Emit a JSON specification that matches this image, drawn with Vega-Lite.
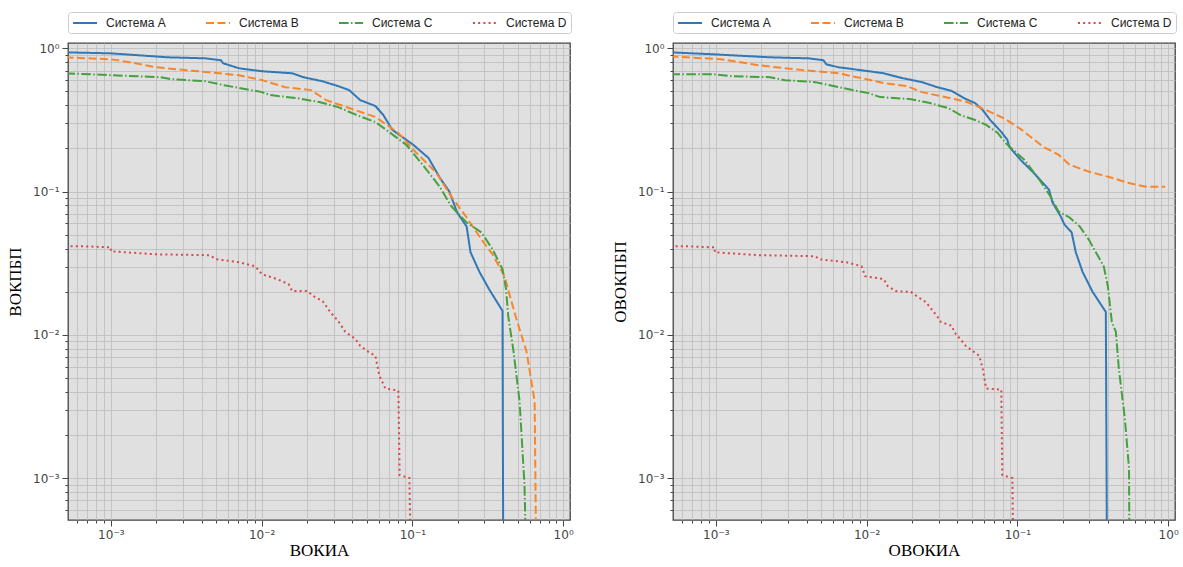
{
  "$schema": "https://vega.github.io/schema/vega-lite/v6.json",
  "background": "white",
  "padding": {"left": 5, "top": 10, "right": 5, "bottom": 5},
  "spacing": 103,
  "bounds": "flush",
  "datasets": {
    "d": [
      {"p":"L","s":"Система A","i":0,"x":0.0005,"y":0.938},
      {"p":"L","s":"Система A","i":1,"x":0.001,"y":0.923},
      {"p":"L","s":"Система A","i":2,"x":0.00239,"y":0.866},
      {"p":"L","s":"Система A","i":3,"x":0.00421,"y":0.852},
      {"p":"L","s":"Система A","i":4,"x":0.00538,"y":0.826},
      {"p":"L","s":"Система A","i":5,"x":0.00555,"y":0.787},
      {"p":"L","s":"Система A","i":6,"x":0.00709,"y":0.726},
      {"p":"L","s":"Система A","i":7,"x":0.01007,"y":0.692},
      {"p":"L","s":"Система A","i":8,"x":0.01596,"y":0.670},
      {"p":"L","s":"Система A","i":9,"x":0.0189,"y":0.629},
      {"p":"L","s":"Система A","i":10,"x":0.0252,"y":0.590},
      {"p":"L","s":"Система A","i":11,"x":0.0322,"y":0.545},
      {"p":"L","s":"Система A","i":12,"x":0.0381,"y":0.511},
      {"p":"L","s":"Система A","i":13,"x":0.0451,"y":0.435},
      {"p":"L","s":"Система A","i":14,"x":0.0568,"y":0.396},
      {"p":"L","s":"Система A","i":15,"x":0.0641,"y":0.343},
      {"p":"L","s":"Система A","i":16,"x":0.0736,"y":0.270},
      {"p":"L","s":"Система A","i":17,"x":0.1015,"y":0.212},
      {"p":"L","s":"Система A","i":18,"x":0.1277,"y":0.172},
      {"p":"L","s":"Система A","i":19,"x":0.152,"y":0.125},
      {"p":"L","s":"Система A","i":20,"x":0.176,"y":0.100},
      {"p":"L","s":"Система A","i":21,"x":0.198,"y":0.0715},
      {"p":"L","s":"Система A","i":22,"x":0.229,"y":0.0571},
      {"p":"L","s":"Система A","i":23,"x":0.243,"y":0.0377},
      {"p":"L","s":"Система A","i":24,"x":0.279,"y":0.0274},
      {"p":"L","s":"Система A","i":25,"x":0.322,"y":0.0209},
      {"p":"L","s":"Система A","i":26,"x":0.396,"y":0.0147},
      {"p":"L","s":"Система A","i":27,"x":0.40,"y":0.0004},

      {"p":"L","s":"Система B","i":0,"x":0.0005,"y":0.866},
      {"p":"L","s":"Система B","i":1,"x":0.001,"y":0.839},
      {"p":"L","s":"Система B","i":2,"x":0.001337,"y":0.800},
      {"p":"L","s":"Система B","i":3,"x":0.00199,"y":0.738},
      {"p":"L","s":"Система B","i":4,"x":0.0032,"y":0.703},
      {"p":"L","s":"Система B","i":5,"x":0.00448,"y":0.681},
      {"p":"L","s":"Система B","i":6,"x":0.00709,"y":0.649},
      {"p":"L","s":"Система B","i":7,"x":0.01007,"y":0.600},
      {"p":"L","s":"Система B","i":8,"x":0.01432,"y":0.536},
      {"p":"L","s":"Система B","i":9,"x":0.0213,"y":0.511},
      {"p":"L","s":"Система B","i":10,"x":0.0268,"y":0.435},
      {"p":"L","s":"Система B","i":11,"x":0.0381,"y":0.383},
      {"p":"L","s":"Система B","i":12,"x":0.0568,"y":0.332},
      {"p":"L","s":"Система B","i":13,"x":0.0807,"y":0.257},
      {"p":"L","s":"Система B","i":14,"x":0.1015,"y":0.196},
      {"p":"L","s":"Система B","i":15,"x":0.144,"y":0.1355},
      {"p":"L","s":"Система B","i":16,"x":0.1815,"y":0.0923},
      {"p":"L","s":"Система B","i":17,"x":0.229,"y":0.066},
      {"p":"L","s":"Система B","i":18,"x":0.287,"y":0.0464},
      {"p":"L","s":"Система B","i":19,"x":0.340,"y":0.0365},
      {"p":"L","s":"Система B","i":20,"x":0.408,"y":0.0257},
      {"p":"L","s":"Система B","i":21,"x":0.483,"y":0.01355},
      {"p":"L","s":"Система B","i":22,"x":0.572,"y":0.00762},
      {"p":"L","s":"Система B","i":23,"x":0.647,"y":0.00343},
      {"p":"L","s":"Система B","i":24,"x":0.66,"y":0.0004},

      {"p":"L","s":"Система C","i":0,"x":0.0005,"y":0.670},
      {"p":"L","s":"Система C","i":1,"x":0.00212,"y":0.629},
      {"p":"L","s":"Система C","i":2,"x":0.00254,"y":0.609},
      {"p":"L","s":"Система C","i":3,"x":0.00421,"y":0.590},
      {"p":"L","s":"Система C","i":4,"x":0.00564,"y":0.553},
      {"p":"L","s":"Система C","i":5,"x":0.01007,"y":0.495},
      {"p":"L","s":"Система C","i":6,"x":0.01138,"y":0.472},
      {"p":"L","s":"Система C","i":7,"x":0.01695,"y":0.450},
      {"p":"L","s":"Система C","i":8,"x":0.0241,"y":0.422},
      {"p":"L","s":"Система C","i":9,"x":0.0322,"y":0.389},
      {"p":"L","s":"Система C","i":10,"x":0.0425,"y":0.343},
      {"p":"L","s":"Система C","i":11,"x":0.0568,"y":0.306},
      {"p":"L","s":"Система C","i":12,"x":0.0714,"y":0.257},
      {"p":"L","s":"Система C","i":13,"x":0.0912,"y":0.212},
      {"p":"L","s":"Система C","i":14,"x":0.120,"y":0.149},
      {"p":"L","s":"Система C","i":15,"x":0.152,"y":0.108},
      {"p":"L","s":"Система C","i":16,"x":0.1815,"y":0.0787},
      {"p":"L","s":"Система C","i":17,"x":0.229,"y":0.0609},
      {"p":"L","s":"Система C","i":18,"x":0.287,"y":0.0519},
      {"p":"L","s":"Система C","i":19,"x":0.340,"y":0.0396},
      {"p":"L","s":"Система C","i":20,"x":0.396,"y":0.0287},
      {"p":"L","s":"Система C","i":21,"x":0.418,"y":0.0209},
      {"p":"L","s":"Система C","i":22,"x":0.432,"y":0.01355},
      {"p":"L","s":"Система C","i":23,"x":0.469,"y":0.00762},
      {"p":"L","s":"Система C","i":24,"x":0.514,"y":0.00343},
      {"p":"L","s":"Система C","i":25,"x":0.554,"y":0.000894},
      {"p":"L","s":"Система C","i":26,"x":0.564,"y":0.0004},

      {"p":"L","s":"Система D","i":0,"x":0.0005,"y":0.0415},
      {"p":"L","s":"Система D","i":1,"x":0.000671,"y":0.0415},
      {"p":"L","s":"Система D","i":2,"x":0.001,"y":0.0408},
      {"p":"L","s":"Система D","i":3,"x":0.001,"y":0.0383},
      {"p":"L","s":"Система D","i":4,"x":0.00199,"y":0.0365},
      {"p":"L","s":"Система D","i":5,"x":0.00448,"y":0.0360},
      {"p":"L","s":"Система D","i":6,"x":0.00506,"y":0.0337},
      {"p":"L","s":"Система D","i":7,"x":0.00709,"y":0.0321},
      {"p":"L","s":"Система D","i":8,"x":0.00905,"y":0.0301},
      {"p":"L","s":"Система D","i":9,"x":0.01007,"y":0.0265},
      {"p":"L","s":"Система D","i":10,"x":0.01268,"y":0.0245},
      {"p":"L","s":"Система D","i":11,"x":0.0151,"y":0.0226},
      {"p":"L","s":"Система D","i":12,"x":0.01596,"y":0.0202},
      {"p":"L","s":"Система D","i":13,"x":0.02005,"y":0.0202},
      {"p":"L","s":"Система D","i":14,"x":0.0226,"y":0.01836},
      {"p":"L","s":"Система D","i":15,"x":0.0254,"y":0.01722},
      {"p":"L","s":"Система D","i":16,"x":0.0285,"y":0.01445},
      {"p":"L","s":"Система D","i":17,"x":0.0322,"y":0.0125},
      {"p":"L","s":"Система D","i":18,"x":0.0359,"y":0.0105},
      {"p":"L","s":"Система D","i":19,"x":0.0418,"y":0.00938},
      {"p":"L","s":"Система D","i":20,"x":0.0451,"y":0.00839},
      {"p":"L","s":"Система D","i":21,"x":0.0510,"y":0.00762},
      {"p":"L","s":"Система D","i":22,"x":0.0568,"y":0.00714},
      {"p":"L","s":"Система D","i":23,"x":0.0604,"y":0.00519},
      {"p":"L","s":"Система D","i":24,"x":0.0662,"y":0.00422},
      {"p":"L","s":"Система D","i":25,"x":0.0807,"y":0.00408},
      {"p":"L","s":"Система D","i":26,"x":0.0823,"y":0.00105},
      {"p":"L","s":"Система D","i":27,"x":0.0955,"y":0.001},
      {"p":"L","s":"Система D","i":28,"x":0.097,"y":0.0004},

      {"p":"R","s":"Система A","i":0,"x":0.0005,"y":0.938},
      {"p":"R","s":"Система A","i":1,"x":0.000962,"y":0.909},
      {"p":"R","s":"Система A","i":2,"x":0.00229,"y":0.866},
      {"p":"R","s":"Система A","i":3,"x":0.0041,"y":0.852},
      {"p":"R","s":"Система A","i":4,"x":0.00517,"y":0.826},
      {"p":"R","s":"Система A","i":5,"x":0.00541,"y":0.774},
      {"p":"R","s":"Система A","i":6,"x":0.0065,"y":0.738},
      {"p":"R","s":"Система A","i":7,"x":0.00927,"y":0.703},
      {"p":"R","s":"Система A","i":8,"x":0.013,"y":0.670},
      {"p":"R","s":"Система A","i":9,"x":0.0174,"y":0.619},
      {"p":"R","s":"Система A","i":10,"x":0.0233,"y":0.581},
      {"p":"R","s":"Система A","i":11,"x":0.0293,"y":0.536},
      {"p":"R","s":"Система A","i":12,"x":0.0369,"y":0.503},
      {"p":"R","s":"Система A","i":13,"x":0.0441,"y":0.450},
      {"p":"R","s":"Система A","i":14,"x":0.0525,"y":0.415},
      {"p":"R","s":"Система A","i":15,"x":0.0589,"y":0.371},
      {"p":"R","s":"Система A","i":16,"x":0.0661,"y":0.316},
      {"p":"R","s":"Система A","i":17,"x":0.0782,"y":0.261},
      {"p":"R","s":"Система A","i":18,"x":0.0858,"y":0.230},
      {"p":"R","s":"Система A","i":19,"x":0.0885,"y":0.205},
      {"p":"R","s":"Система A","i":20,"x":0.1047,"y":0.167},
      {"p":"R","s":"Система A","i":21,"x":0.128,"y":0.1355},
      {"p":"R","s":"Система A","i":22,"x":0.162,"y":0.1033},
      {"p":"R","s":"Система A","i":23,"x":0.171,"y":0.0839},
      {"p":"R","s":"Система A","i":24,"x":0.194,"y":0.067},
      {"p":"R","s":"Система A","i":25,"x":0.205,"y":0.059},
      {"p":"R","s":"Система A","i":26,"x":0.229,"y":0.0519},
      {"p":"R","s":"Система A","i":27,"x":0.244,"y":0.0377},
      {"p":"R","s":"Система A","i":28,"x":0.271,"y":0.0274},
      {"p":"R","s":"Система A","i":29,"x":0.316,"y":0.0199},
      {"p":"R","s":"Система A","i":30,"x":0.386,"y":0.01445},
      {"p":"R","s":"Система A","i":31,"x":0.392,"y":0.0004},

      {"p":"R","s":"Система B","i":0,"x":0.0005,"y":0.88},
      {"p":"R","s":"Система B","i":1,"x":0.00108,"y":0.839},
      {"p":"R","s":"Система B","i":2,"x":0.00145,"y":0.800},
      {"p":"R","s":"Система B","i":3,"x":0.00193,"y":0.762},
      {"p":"R","s":"Система B","i":4,"x":0.00288,"y":0.726},
      {"p":"R","s":"Система B","i":5,"x":0.00457,"y":0.692},
      {"p":"R","s":"Система B","i":6,"x":0.0065,"y":0.670},
      {"p":"R","s":"Система B","i":7,"x":0.00927,"y":0.619},
      {"p":"R","s":"Система B","i":8,"x":0.013,"y":0.572},
      {"p":"R","s":"Система B","i":9,"x":0.0185,"y":0.545},
      {"p":"R","s":"Система B","i":10,"x":0.0233,"y":0.495},
      {"p":"R","s":"Система B","i":11,"x":0.0331,"y":0.457},
      {"p":"R","s":"Система B","i":12,"x":0.0464,"y":0.422},
      {"p":"R","s":"Система B","i":13,"x":0.0621,"y":0.371},
      {"p":"R","s":"Система B","i":14,"x":0.0832,"y":0.321},
      {"p":"R","s":"Система B","i":15,"x":0.1047,"y":0.274},
      {"p":"R","s":"Система B","i":16,"x":0.125,"y":0.237},
      {"p":"R","s":"Система B","i":17,"x":0.149,"y":0.205},
      {"p":"R","s":"Система B","i":18,"x":0.1875,"y":0.181},
      {"p":"R","s":"Система B","i":19,"x":0.222,"y":0.154},
      {"p":"R","s":"Система B","i":20,"x":0.297,"y":0.138},
      {"p":"R","s":"Система B","i":21,"x":0.423,"y":0.125},
      {"p":"R","s":"Система B","i":22,"x":0.533,"y":0.1155},
      {"p":"R","s":"Система B","i":23,"x":0.713,"y":0.108},
      {"p":"R","s":"Система B","i":24,"x":0.955,"y":0.108},

      {"p":"R","s":"Система C","i":0,"x":0.0005,"y":0.66},
      {"p":"R","s":"Система C","i":1,"x":0.000962,"y":0.66},
      {"p":"R","s":"Система C","i":2,"x":0.00128,"y":0.639},
      {"p":"R","s":"Система C","i":3,"x":0.00229,"y":0.629},
      {"p":"R","s":"Система C","i":4,"x":0.00288,"y":0.600},
      {"p":"R","s":"Система C","i":5,"x":0.00457,"y":0.581},
      {"p":"R","s":"Система C","i":6,"x":0.0065,"y":0.536},
      {"p":"R","s":"Система C","i":7,"x":0.0103,"y":0.487},
      {"p":"R","s":"Система C","i":8,"x":0.0123,"y":0.457},
      {"p":"R","s":"Система C","i":9,"x":0.0197,"y":0.442},
      {"p":"R","s":"Система C","i":10,"x":0.0263,"y":0.415},
      {"p":"R","s":"Система C","i":11,"x":0.0349,"y":0.383},
      {"p":"R","s":"Система C","i":12,"x":0.0417,"y":0.343},
      {"p":"R","s":"Система C","i":13,"x":0.0525,"y":0.316},
      {"p":"R","s":"Система C","i":14,"x":0.0621,"y":0.292},
      {"p":"R","s":"Система C","i":15,"x":0.0741,"y":0.257},
      {"p":"R","s":"Система C","i":16,"x":0.0832,"y":0.219},
      {"p":"R","s":"Система C","i":17,"x":0.111,"y":0.167},
      {"p":"R","s":"Система C","i":18,"x":0.140,"y":0.121},
      {"p":"R","s":"Система C","i":19,"x":0.166,"y":0.0923},
      {"p":"R","s":"Система C","i":20,"x":0.1875,"y":0.0726},
      {"p":"R","s":"Система C","i":21,"x":0.222,"y":0.066},
      {"p":"R","s":"Система C","i":22,"x":0.259,"y":0.0571},
      {"p":"R","s":"Система C","i":23,"x":0.297,"y":0.0464},
      {"p":"R","s":"Система C","i":24,"x":0.352,"y":0.0337},
      {"p":"R","s":"Система C","i":25,"x":0.374,"y":0.0301},
      {"p":"R","s":"Система C","i":26,"x":0.398,"y":0.0219},
      {"p":"R","s":"Система C","i":27,"x":0.423,"y":0.0123},
      {"p":"R","s":"Система C","i":28,"x":0.450,"y":0.0105},
      {"p":"R","s":"Система C","i":29,"x":0.471,"y":0.0058},
      {"p":"R","s":"Система C","i":30,"x":0.516,"y":0.00261},
      {"p":"R","s":"Система C","i":31,"x":0.55,"y":0.00117},
      {"p":"R","s":"Система C","i":32,"x":0.553,"y":0.0004},

      {"p":"R","s":"Система D","i":0,"x":0.0005,"y":0.0415},
      {"p":"R","s":"Система D","i":1,"x":0.000641,"y":0.0415},
      {"p":"R","s":"Система D","i":2,"x":0.000984,"y":0.0408},
      {"p":"R","s":"Система D","i":3,"x":0.000984,"y":0.0377},
      {"p":"R","s":"Система D","i":4,"x":0.00193,"y":0.036},
      {"p":"R","s":"Система D","i":5,"x":0.00457,"y":0.0354},
      {"p":"R","s":"Система D","i":6,"x":0.00486,"y":0.0337},
      {"p":"R","s":"Система D","i":7,"x":0.00736,"y":0.0321},
      {"p":"R","s":"Система D","i":8,"x":0.00927,"y":0.0301},
      {"p":"R","s":"Система D","i":9,"x":0.00977,"y":0.0257},
      {"p":"R","s":"Система D","i":10,"x":0.013,"y":0.0245},
      {"p":"R","s":"Система D","i":11,"x":0.0138,"y":0.0219},
      {"p":"R","s":"Система D","i":12,"x":0.0156,"y":0.0202},
      {"p":"R","s":"Система D","i":13,"x":0.0197,"y":0.0199},
      {"p":"R","s":"Система D","i":14,"x":0.0219,"y":0.01836},
      {"p":"R","s":"Система D","i":15,"x":0.0247,"y":0.01695},
      {"p":"R","s":"Система D","i":16,"x":0.0293,"y":0.01355},
      {"p":"R","s":"Система D","i":17,"x":0.0311,"y":0.0123},
      {"p":"R","s":"Система D","i":18,"x":0.0369,"y":0.01155},
      {"p":"R","s":"Система D","i":19,"x":0.038,"y":0.0105},
      {"p":"R","s":"Система D","i":20,"x":0.0417,"y":0.00938},
      {"p":"R","s":"Система D","i":21,"x":0.0454,"y":0.00839},
      {"p":"R","s":"Система D","i":22,"x":0.0558,"y":0.00714},
      {"p":"R","s":"Система D","i":23,"x":0.0589,"y":0.0058},
      {"p":"R","s":"Система D","i":24,"x":0.0621,"y":0.00422},
      {"p":"R","s":"Система D","i":25,"x":0.0782,"y":0.00415},
      {"p":"R","s":"Система D","i":26,"x":0.0794,"y":0.00105},
      {"p":"R","s":"Система D","i":27,"x":0.0927,"y":0.001},
      {"p":"R","s":"Система D","i":28,"x":0.0935,"y":0.0004}
    ]
  },
  "config": {
    "view": {"fill": "#e0e0e0", "stroke": "#444444", "strokeWidth": 1.3},
    "axis": {
      "domain": false,
      "labelFont": "DejaVu Sans",
      "labelFontSize": 12,
      "labelColor": "#444444",
      "labelOverlap": false,
      "labelFlush": false,
      "labelPadding": 3,
      "tickColor": "#444444",
      "tickWidth": 1,
      "gridColor": "#bdbdbd",
      "gridWidth": 0.8,
      "titleFont": "Liberation Serif",
      "titleFontSize": 17,
      "titleFontWeight": "normal",
      "titleColor": "#000000"
    },
    "legend": {
      "orient": "top",
      "direction": "horizontal",
      "offset": 10,
      "padding": 4,
      "strokeColor": "#cccccc",
      "fillColor": "#ffffff",
      "cornerRadius": 3,
      "symbolType": "M-1,0H3",
      "symbolSize": 144,
      "symbolStrokeWidth": 2,
      "labelFont": "Liberation Sans",
      "labelFontSize": 12,
      "labelColor": "#222222",
      "labelOffset": 20,
      "columnPadding": 36
    }
  },
  "resolve": {"legend": {"color": "independent", "strokeDash": "independent"}},
  "hconcat": [
    {
      "width": 502,
      "height": 477,
      "data": {"name": "d"},
      "transform": [{"filter": "datum.p == 'L'"}],
      "mark": {"type": "line", "strokeWidth": 2, "clip": true},
      "encoding": {
        "x": {
          "field": "x", "type": "quantitative",
          "scale": {"type": "log", "domain": [0.00052, 1.11], "nice": false},
          "axis": {
            "title": "ВОКИА",
            "titlePadding": 2,
            "grid": true,
            "values": [0.0006,0.0007,0.0008,0.0009,0.001,0.002,0.003,0.004,0.005,0.006,0.007,0.008,0.009,0.01,0.02,0.03,0.04,0.05,0.06,0.07,0.08,0.09,0.1,0.2,0.3,0.4,0.5,0.6,0.7,0.8,0.9,1],
            "labelExpr": "abs(log(datum.value)/LN10 - round(log(datum.value)/LN10)) < 0.001 ? ['10⁰','10⁻¹','10⁻²','10⁻³'][-round(log(datum.value)/LN10)] : ''",
            "tickSize": {"condition": {"test": "abs(log(datum.value)/LN10 - round(log(datum.value)/LN10)) < 0.001", "value": 6}, "value": 3}
          }
        },
        "y": {
          "field": "y", "type": "quantitative",
          "scale": {"type": "log", "domain": [0.00051, 1.09], "nice": false},
          "axis": {
            "title": "ВОКПБП",
            "titlePadding": 8,
            "minExtent": 36,
            "maxExtent": 36,
            "grid": true,
            "values": [0.0006,0.0007,0.0008,0.0009,0.001,0.002,0.003,0.004,0.005,0.006,0.007,0.008,0.009,0.01,0.02,0.03,0.04,0.05,0.06,0.07,0.08,0.09,0.1,0.2,0.3,0.4,0.5,0.6,0.7,0.8,0.9,1],
            "labelExpr": "abs(log(datum.value)/LN10 - round(log(datum.value)/LN10)) < 0.001 ? ['10⁰','10⁻¹','10⁻²','10⁻³'][-round(log(datum.value)/LN10)] : ''",
            "tickSize": {"condition": {"test": "abs(log(datum.value)/LN10 - round(log(datum.value)/LN10)) < 0.001", "value": 6}, "value": 3}
          }
        },
        "color": {
          "field": "s", "type": "nominal",
          "scale": {"domain": ["Система A","Система B","Система C","Система D"], "range": ["#3178b5","#f8862a","#45a040","#d5494b"]},
          "legend": {"title": null}
        },
        "strokeDash": {
          "field": "s", "type": "nominal",
          "scale": {"domain": ["Система A","Система B","Система C","Система D"], "range": [[1,0],[8,3.5],[9.6,2.4,1.5,2.4],[2,3.2]]},
          "legend": {"title": null}
        },
        "order": {"field": "i", "type": "quantitative"}
      }
    },
    {
      "width": 502,
      "height": 477,
      "data": {"name": "d"},
      "transform": [{"filter": "datum.p == 'R'"}],
      "mark": {"type": "line", "strokeWidth": 2, "clip": true},
      "encoding": {
        "x": {
          "field": "x", "type": "quantitative",
          "scale": {"type": "log", "domain": [0.00052, 1.11], "nice": false},
          "axis": {
            "title": "ОВОКИА",
            "titlePadding": 2,
            "grid": true,
            "values": [0.0006,0.0007,0.0008,0.0009,0.001,0.002,0.003,0.004,0.005,0.006,0.007,0.008,0.009,0.01,0.02,0.03,0.04,0.05,0.06,0.07,0.08,0.09,0.1,0.2,0.3,0.4,0.5,0.6,0.7,0.8,0.9,1],
            "labelExpr": "abs(log(datum.value)/LN10 - round(log(datum.value)/LN10)) < 0.001 ? ['10⁰','10⁻¹','10⁻²','10⁻³'][-round(log(datum.value)/LN10)] : ''",
            "tickSize": {"condition": {"test": "abs(log(datum.value)/LN10 - round(log(datum.value)/LN10)) < 0.001", "value": 6}, "value": 3}
          }
        },
        "y": {
          "field": "y", "type": "quantitative",
          "scale": {"type": "log", "domain": [0.00051, 1.09], "nice": false},
          "axis": {
            "title": "ОВОКПБП",
            "titlePadding": 8,
            "minExtent": 36,
            "maxExtent": 36,
            "grid": true,
            "values": [0.0006,0.0007,0.0008,0.0009,0.001,0.002,0.003,0.004,0.005,0.006,0.007,0.008,0.009,0.01,0.02,0.03,0.04,0.05,0.06,0.07,0.08,0.09,0.1,0.2,0.3,0.4,0.5,0.6,0.7,0.8,0.9,1],
            "labelExpr": "abs(log(datum.value)/LN10 - round(log(datum.value)/LN10)) < 0.001 ? ['10⁰','10⁻¹','10⁻²','10⁻³'][-round(log(datum.value)/LN10)] : ''",
            "tickSize": {"condition": {"test": "abs(log(datum.value)/LN10 - round(log(datum.value)/LN10)) < 0.001", "value": 6}, "value": 3}
          }
        },
        "color": {
          "field": "s", "type": "nominal",
          "scale": {"domain": ["Система A","Система B","Система C","Система D"], "range": ["#3178b5","#f8862a","#45a040","#d5494b"]},
          "legend": {"title": null}
        },
        "strokeDash": {
          "field": "s", "type": "nominal",
          "scale": {"domain": ["Система A","Система B","Система C","Система D"], "range": [[1,0],[8,3.5],[9.6,2.4,1.5,2.4],[2,3.2]]},
          "legend": {"title": null}
        },
        "order": {"field": "i", "type": "quantitative"}
      }
    }
  ]
}
